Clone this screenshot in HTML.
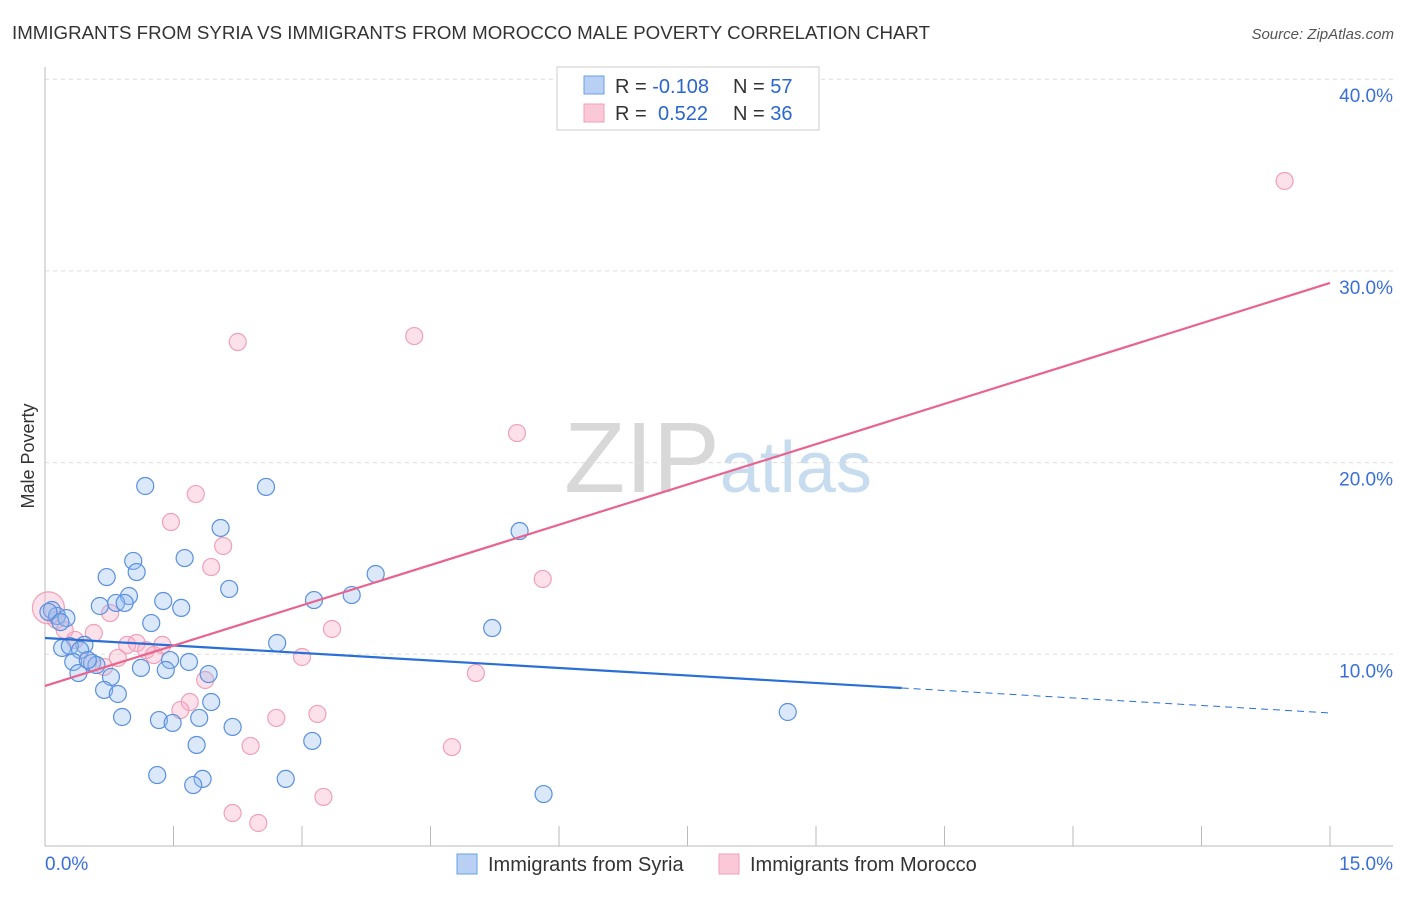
<!DOCTYPE html>
<html><head><meta charset="utf-8"><style>
body{margin:0;background:#fff;font-family:"Liberation Sans",sans-serif}
svg text{font-family:"Liberation Sans",sans-serif}
</style></head><body>
<svg id="c" width="1406" height="892" viewBox="0 0 1406 892">
<text x="12" y="39" font-size="18" fill="#333" textLength="918" lengthAdjust="spacingAndGlyphs">IMMIGRANTS FROM SYRIA VS IMMIGRANTS FROM MOROCCO MALE POVERTY CORRELATION CHART</text>
<text x="1394" y="39" font-size="15" fill="#555" font-style="italic" text-anchor="end">Source: ZipAtlas.com</text>
<text transform="translate(34,456) rotate(-90)" font-size="18" fill="#333" text-anchor="middle">Male Poverty</text>
<text x="718" y="492" font-size="100" fill="#ddd" text-anchor="middle" font-family="Liberation Serif"><tspan fill="#d8d8d8">ZIP</tspan><tspan fill="#c8dcf0" font-family="Liberation Sans" font-size="72">atlas</tspan></text>
<g id="grid"></g><g id="marks"></g><g id="lines"></g>
<g>
<rect x="557" y="67" width="262" height="63" fill="#fff" stroke="#ccc"/>
<rect x="584" y="76" width="20" height="18" fill="#b8d0f4" stroke="#6a9fe0"/>
<rect x="584" y="104" width="20" height="18" fill="#fac8d6" stroke="#f0a0b8"/>
<text x="615" y="93" font-size="20" fill="#333">R = <tspan fill="#2a66d0">-0.108</tspan></text>
<text x="733" y="93" font-size="20" fill="#333">N = <tspan fill="#2a66d0">57</tspan></text>
<text x="615" y="120" font-size="20" fill="#333">R = <tspan fill="#2a66d0" x="658">0.522</tspan></text>
<text x="733" y="120" font-size="20" fill="#333">N = <tspan fill="#2a66d0">36</tspan></text>
</g>
<g>
<rect x="457" y="854" width="20" height="20" fill="#b8d0f4" stroke="#6a9fe0"/>
<text x="488" y="871" font-size="20" fill="#333">Immigrants from Syria</text>
<rect x="719" y="854" width="20" height="20" fill="#fac8d6" stroke="#f0a0b8"/>
<text x="750" y="871" font-size="20" fill="#333">Immigrants from Morocco</text>
</g>
</svg>
<script>
const xTicks=[0,1.5,3,4.5,6,7.5,9,10.5,12,13.5,15];
const yTicks=[10,20,30,40];
const yTickLabels=["10.0%","20.0%","30.0%","40.0%"];
const syriaX=[1.17,2.58,2.05,5.54,1.63,1.03,0.72,1.07,3.86,2.15,3.58,0.98,1.38,3.14,0.64,0.83,0.93,1.59,1.24,5.22,0.08,0.14,0.25,0.04,2.71,0.20,0.46,0.29,0.41,0.55,0.33,0.60,1.46,1.68,1.12,1.41,1.91,0.39,0.77,0.69,0.85,1.94,0.90,1.33,1.80,1.49,2.19,8.67,1.77,3.12,1.31,1.84,2.81,1.73,5.82,0.50,0.18];
const syriaY=[18.78,18.73,16.59,16.43,15.02,14.87,14.03,14.29,14.19,13.41,13.09,13.04,12.78,12.83,12.52,12.68,12.68,12.42,11.63,11.37,12.31,12.00,11.89,12.21,10.59,10.33,10.49,10.43,10.22,9.55,9.60,9.44,9.70,9.60,9.29,9.18,8.97,9.02,8.82,8.14,7.93,7.51,6.73,6.57,6.68,6.42,6.21,6.99,5.27,5.48,3.70,3.50,3.50,3.18,2.71,9.70,11.68];
const moroccoX=[14.47,2.25,4.31,5.51,1.76,1.47,2.08,1.94,5.81,0.76,0.04,0.13,0.23,0.57,0.35,0.96,1.07,1.37,1.18,0.85,1.27,3.35,3.00,0.69,5.03,1.87,1.69,1.58,2.70,3.18,2.40,4.75,2.19,2.49,3.25,0.50];
const moroccoY=[34.69,26.29,26.60,21.54,18.36,16.90,15.65,14.55,13.93,12.15,12.42,11.79,11.27,11.11,10.75,10.49,10.59,10.49,10.22,9.81,9.96,11.32,9.86,9.34,9.02,8.66,7.51,7.09,6.68,6.89,5.22,5.16,1.72,1.20,2.56,9.70];
const syriaTrend=[10.85,6.94];
const syriaSolidEnd=10.0;
const moroccoTrend=[8.35,29.37];
const NS="http://www.w3.org/2000/svg";
const X=v=>45+v*(1285/15), Y=v=>846-v*19.17;
function mk(t,a,p){const e=document.createElementNS(NS,t);for(const k in a)e.setAttribute(k,a[k]);p.appendChild(e);return e;}
const grid=document.getElementById('grid'),marks=document.getElementById('marks'),lines=document.getElementById('lines');
yTicks.forEach((v,i)=>{
 const l=mk('line',{x1:45,x2:1393,y1:Y(v),y2:Y(v),stroke:'#ddd','stroke-dasharray':'4,4'},grid);
 
 
 const t=mk('text',{x:1393,y:Y(v)+23,'font-size':19,fill:'#3a6fd8','text-anchor':'end'},grid);t.textContent=yTickLabels[i];
 
 
});
const ax=mk('line',{x1:45,x2:1393,y1:846,y2:846,stroke:'#bbb'},grid);


const ay=mk('line',{x1:45,x2:45,y1:67,y2:846,stroke:'#bbb'},grid);


xTicks.forEach(v=>{const t=mk('line',{x1:X(v),x2:X(v),y1:826,y2:846,stroke:'#bbb'},grid);
 
 });
const xl0=mk('text',{x:45,y:870,'font-size':19,fill:'#3a6fd8'},grid);xl0.textContent=xTicks[0].toFixed(1)+'%';


const xl1=mk('text',{x:1393,y:870,'font-size':19,fill:'#3a6fd8','text-anchor':'end'},grid);xl1.textContent=xTicks[xTicks.length-1].toFixed(1)+'%';


moroccoX.forEach((x,i)=>{const c=mk('circle',{cx:X(x),cy:Y(moroccoY[i]),r:(i==10?16:8.5),fill:'rgba(248,170,195,0.35)',stroke:'#f0a0b8','stroke-width':1.2},marks);
 
 });
syriaX.forEach((x,i)=>{const c=mk('circle',{cx:X(x),cy:Y(syriaY[i]),r:8.5,fill:'rgba(150,190,240,0.35)',stroke:'#5a90dd','stroke-width':1.2},marks);
 
 });
const sy=x=>syriaTrend[0]+(syriaTrend[1]-syriaTrend[0])*x/15;
const l1=mk('line',{x1:X(0),y1:Y(sy(0)),x2:X(syriaSolidEnd),y2:Y(sy(syriaSolidEnd)),stroke:'#2a6fd6','stroke-width':2.2},lines);


const l2=mk('line',{x1:X(syriaSolidEnd),y1:Y(sy(syriaSolidEnd)),x2:X(15),y2:Y(sy(15)),stroke:'#2a6fd6','stroke-width':1,'stroke-dasharray':'7,5'},lines);


const l3=mk('line',{x1:X(0),y1:Y(moroccoTrend[0]),x2:X(15),y2:Y(moroccoTrend[1]),stroke:'#e8648e','stroke-width':2.2},lines);


</script>
</body></html>
